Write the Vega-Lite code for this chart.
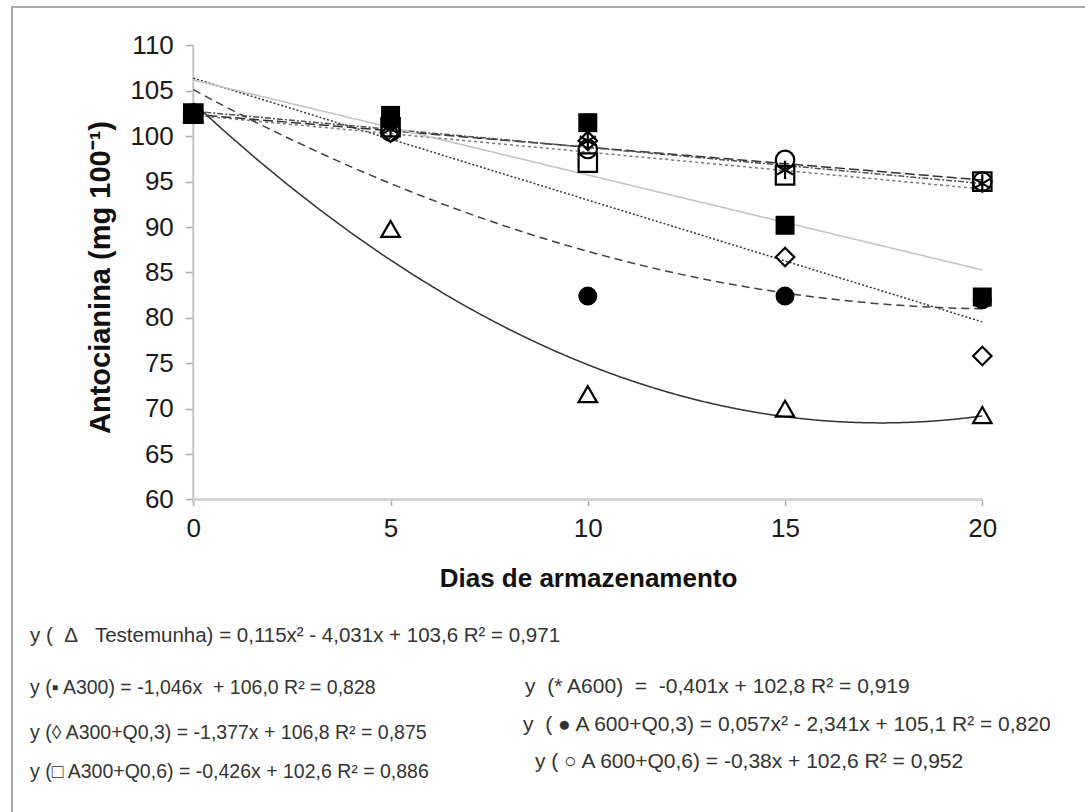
{
  "$schema": "https://vega.github.io/schema/vega-lite/v6.json",
  "autosize": {"type": "none"},
  "padding": {"left": 12, "top": 7, "right": 0, "bottom": 0},
  "width": 1080,
  "height": 810,
  "background": "white",
  "config": {"view": {"stroke": "#a8a8a8", "strokeWidth": 2}, "font": "Liberation Sans"},
  "datasets": {
    "obs": [
      {"serie": "Testemunha", "dia": 0, "antocianina": 102.5},
      {"serie": "Testemunha", "dia": 5, "antocianina": 89.8},
      {"serie": "Testemunha", "dia": 10, "antocianina": 71.6},
      {"serie": "Testemunha", "dia": 15, "antocianina": 70.0},
      {"serie": "Testemunha", "dia": 20, "antocianina": 69.3},
      {"serie": "A300+Q0,3", "dia": 0, "antocianina": 102.5},
      {"serie": "A300+Q0,3", "dia": 5, "antocianina": 100.4},
      {"serie": "A300+Q0,3", "dia": 10, "antocianina": 99.5},
      {"serie": "A300+Q0,3", "dia": 15, "antocianina": 86.7},
      {"serie": "A300+Q0,3", "dia": 20, "antocianina": 75.8},
      {"serie": "A300+Q0,6", "dia": 0, "antocianina": 102.5},
      {"serie": "A300+Q0,6", "dia": 5, "antocianina": 101.0},
      {"serie": "A300+Q0,6", "dia": 10, "antocianina": 97.1},
      {"serie": "A300+Q0,6", "dia": 15, "antocianina": 95.7},
      {"serie": "A300+Q0,6", "dia": 20, "antocianina": 95.0},
      {"serie": "A600+Q0,6", "dia": 0, "antocianina": 102.5},
      {"serie": "A600+Q0,6", "dia": 5, "antocianina": 100.5},
      {"serie": "A600+Q0,6", "dia": 10, "antocianina": 98.6},
      {"serie": "A600+Q0,6", "dia": 15, "antocianina": 97.4},
      {"serie": "A600+Q0,6", "dia": 20, "antocianina": 95.0},
      {"serie": "A600", "dia": 0, "antocianina": 102.5},
      {"serie": "A600", "dia": 5, "antocianina": 100.8},
      {"serie": "A600", "dia": 10, "antocianina": 99.5},
      {"serie": "A600", "dia": 15, "antocianina": 96.3},
      {"serie": "A600", "dia": 20, "antocianina": 94.8},
      {"serie": "A600+Q0,3", "dia": 0, "antocianina": 102.5},
      {"serie": "A600+Q0,3", "dia": 5, "antocianina": 101.7},
      {"serie": "A600+Q0,3", "dia": 10, "antocianina": 82.4},
      {"serie": "A600+Q0,3", "dia": 15, "antocianina": 82.4},
      {"serie": "A600+Q0,3", "dia": 20, "antocianina": 82.0},
      {"serie": "A300", "dia": 0, "antocianina": 102.4},
      {"serie": "A300", "dia": 5, "antocianina": 102.3},
      {"serie": "A300", "dia": 10, "antocianina": 101.5},
      {"serie": "A300", "dia": 15, "antocianina": 90.2},
      {"serie": "A300", "dia": 20, "antocianina": 82.3}
    ]
  },
  "layer": [
    {
      "data": {"values": [{}]},
      "mark": {"type": "rule", "color": "#c4c4c4", "strokeWidth": 2},
      "encoding": {
        "x": {"datum": 0, "type": "quantitative", "scale": {"domain": [-4.596, 22.781], "nice": false, "zero": false}},
        "y": {"datum": 59.6, "type": "quantitative", "scale": {"domain": [25.03, 114.24], "nice": false, "zero": false}},
        "y2": {"datum": 110}
      }
    },
    {
      "data": {"values": [{}]},
      "mark": {"type": "rule", "color": "#d4d4d4", "strokeWidth": 3},
      "encoding": {
        "x": {"datum": 0, "type": "quantitative"},
        "x2": {"datum": 20},
        "y": {"datum": 60, "type": "quantitative"}
      }
    },
    {
      "data": {"name": "obs"},
      "transform": [
        {"filter": {"field": "serie", "oneOf": ["A300", "A300+Q0,3", "A300+Q0,6", "A600", "A600+Q0,6"]}},
        {"regression": "antocianina", "on": "dia", "groupby": ["serie"], "method": "linear", "extent": [0, 20]}
      ],
      "mark": {"type": "line", "strokeWidth": 1.5},
      "encoding": {
        "x": {"field": "dia", "type": "quantitative"},
        "y": {"field": "antocianina", "type": "quantitative"},
        "detail": {"field": "serie"},
        "color": {"field": "serie", "legend": null, "scale": {"domain": ["Testemunha", "A300", "A300+Q0,3", "A300+Q0,6", "A600", "A600+Q0,3", "A600+Q0,6"], "range": ["#303030", "#c2c2c2", "#333333", "#7a7a7a", "#505050", "#404040", "#303030"]}},
        "strokeDash": {"field": "serie", "legend": null, "scale": {"domain": ["Testemunha", "A300", "A300+Q0,3", "A300+Q0,6", "A600", "A600+Q0,3", "A600+Q0,6"], "range": [[1, 0], [1, 0], [2, 2], [3, 3], [6, 2, 2, 2], [8, 5], [10, 4]]}}
      }
    },
    {
      "data": {"name": "obs"},
      "transform": [
        {"filter": {"field": "serie", "oneOf": ["Testemunha", "A600+Q0,3"]}},
        {"regression": "antocianina", "on": "dia", "groupby": ["serie"], "method": "poly", "order": 2, "extent": [0, 20]}
      ],
      "mark": {"type": "line", "strokeWidth": 1.5},
      "encoding": {
        "x": {"field": "dia", "type": "quantitative"},
        "y": {"field": "antocianina", "type": "quantitative"},
        "detail": {"field": "serie"},
        "color": {"field": "serie", "legend": null, "scale": {"domain": ["Testemunha", "A300", "A300+Q0,3", "A300+Q0,6", "A600", "A600+Q0,3", "A600+Q0,6"], "range": ["#303030", "#c2c2c2", "#333333", "#7a7a7a", "#505050", "#404040", "#303030"]}},
        "strokeDash": {"field": "serie", "legend": null, "scale": {"domain": ["Testemunha", "A300", "A300+Q0,3", "A300+Q0,6", "A600", "A600+Q0,3", "A600+Q0,6"], "range": [[1, 0], [1, 0], [2, 2], [3, 3], [6, 2, 2, 2], [8, 5], [10, 4]]}}
      }
    },
    {
      "data": {"name": "obs"},
      "transform": [
        {"filter": {"field": "serie", "oneOf": ["Testemunha", "A300+Q0,3", "A300+Q0,6", "A600+Q0,6", "A600"]}}
      ],
      "mark": {"type": "point", "filled": false, "stroke": "black", "strokeWidth": 2.2, "size": 340, "opacity": 1},
      "encoding": {
        "x": {"field": "dia", "type": "quantitative", "axis": {"values": [0, 5, 10, 15, 20], "offset": -317.5, "domain": false, "grid": false, "tickSize": 6, "tickColor": "#a8a8a8", "tickWidth": 1.5, "labelFontSize": 26, "labelColor": "#1a1a1a", "labelPadding": 10, "title": "Dias de armazenamento", "titleFontSize": 26, "titleFontWeight": "bold", "titleColor": "#111", "titleX": 576, "titleY": 79, "titleAlign": "center", "titleBaseline": "middle"}},
        "y": {"field": "antocianina", "type": "quantitative", "axis": {"values": [60, 65, 70, 75, 80, 85, 90, 95, 100, 105, 110], "offset": -181.3, "domain": false, "grid": false, "tickSize": 8, "tickColor": "#a8a8a8", "tickWidth": 1.5, "labelFontSize": 26, "labelColor": "#1a1a1a", "labelPadding": 12, "title": "Antocianina (mg 100⁻¹)", "titleFontSize": 29, "titleFontWeight": "bold", "titleColor": "#111", "titleX": -93, "titleY": 270, "titleAngle": -90, "titleAlign": "center", "titleBaseline": "middle"}},
        "shape": {"field": "serie", "legend": null, "scale": {"domain": ["Testemunha", "A300", "A300+Q0,3", "A300+Q0,6", "A600", "A600+Q0,3", "A600+Q0,6"], "range": ["triangle-up", "square", "diamond", "square", "M0,-1L0,1M-0.866,-0.5L0.866,0.5M-0.866,0.5L0.866,-0.5", "circle", "circle"]}}
      }
    },
    {
      "data": {"name": "obs"},
      "transform": [
        {"filter": {"field": "serie", "oneOf": ["A600+Q0,3", "A300"]}}
      ],
      "mark": {"type": "point", "filled": true, "color": "black", "size": 360, "opacity": 1},
      "encoding": {
        "x": {"field": "dia", "type": "quantitative"},
        "y": {"field": "antocianina", "type": "quantitative"},
        "shape": {"field": "serie", "legend": null, "scale": {"domain": ["Testemunha", "A300", "A300+Q0,3", "A300+Q0,6", "A600", "A600+Q0,3", "A600+Q0,6"], "range": ["triangle-up", "square", "diamond", "square", "M0,-1L0,1M-0.866,-0.5L0.866,0.5M-0.866,0.5L0.866,-0.5", "circle", "circle"]}}
      }
    },
    {
      "data": {"values": [{}]},
      "mark": {"type": "text", "align": "left", "baseline": "middle", "fontSize": 20.5, "color": "#333", "text": "y (\u00a0\u00a0Δ\u00a0\u00a0\u00a0Testemunha) = 0,115x² - 4,031x + 103,6 R² = 0,971"},
      "encoding": {"x": {"datum": -4.14, "type": "quantitative"}, "y": {"datum": 44.97, "type": "quantitative"}}
    },
    {
      "data": {"values": [{}]},
      "mark": {"type": "text", "align": "left", "baseline": "middle", "fontSize": 19.5, "color": "#333", "text": "y (▪ A300) = -1,046x\u00a0 + 106,0 R² = 0,828"},
      "encoding": {"x": {"datum": -4.14, "type": "quantitative"}, "y": {"datum": 39.25, "type": "quantitative"}}
    },
    {
      "data": {"values": [{}]},
      "mark": {"type": "text", "align": "left", "baseline": "middle", "fontSize": 19.5, "color": "#333", "text": "y (◊ A300+Q0,3) = -1,377x + 106,8 R² = 0,875"},
      "encoding": {"x": {"datum": -4.14, "type": "quantitative"}, "y": {"datum": 34.3, "type": "quantitative"}}
    },
    {
      "data": {"values": [{}]},
      "mark": {"type": "text", "align": "left", "baseline": "middle", "fontSize": 19.5, "color": "#333", "text": "y (□ A300+Q0,6) = -0,426x + 102,6 R² = 0,886"},
      "encoding": {"x": {"datum": -4.14, "type": "quantitative"}, "y": {"datum": 30.0, "type": "quantitative"}}
    },
    {
      "data": {"values": [{}]},
      "mark": {"type": "text", "align": "left", "baseline": "middle", "fontSize": 21, "color": "#333", "text": "y\u00a0 (* A600)\u00a0 =\u00a0 -0,401x + 102,8 R² = 0,919"},
      "encoding": {"x": {"datum": 8.41, "type": "quantitative"}, "y": {"datum": 39.35, "type": "quantitative"}}
    },
    {
      "data": {"values": [{}]},
      "mark": {"type": "text", "align": "left", "baseline": "middle", "fontSize": 21, "color": "#333", "text": "y\u00a0 ( ● A 600+Q0,3) = 0,057x² - 2,341x + 105,1 R² = 0,820"},
      "encoding": {"x": {"datum": 8.36, "type": "quantitative"}, "y": {"datum": 35.2, "type": "quantitative"}}
    },
    {
      "data": {"values": [{}]},
      "mark": {"type": "text", "align": "left", "baseline": "middle", "fontSize": 21, "color": "#333", "text": "y ( ○ A 600+Q0,6) = -0,38x + 102,6 R² = 0,952"},
      "encoding": {"x": {"datum": 8.66, "type": "quantitative"}, "y": {"datum": 31.1, "type": "quantitative"}}
    }
  ]
}
